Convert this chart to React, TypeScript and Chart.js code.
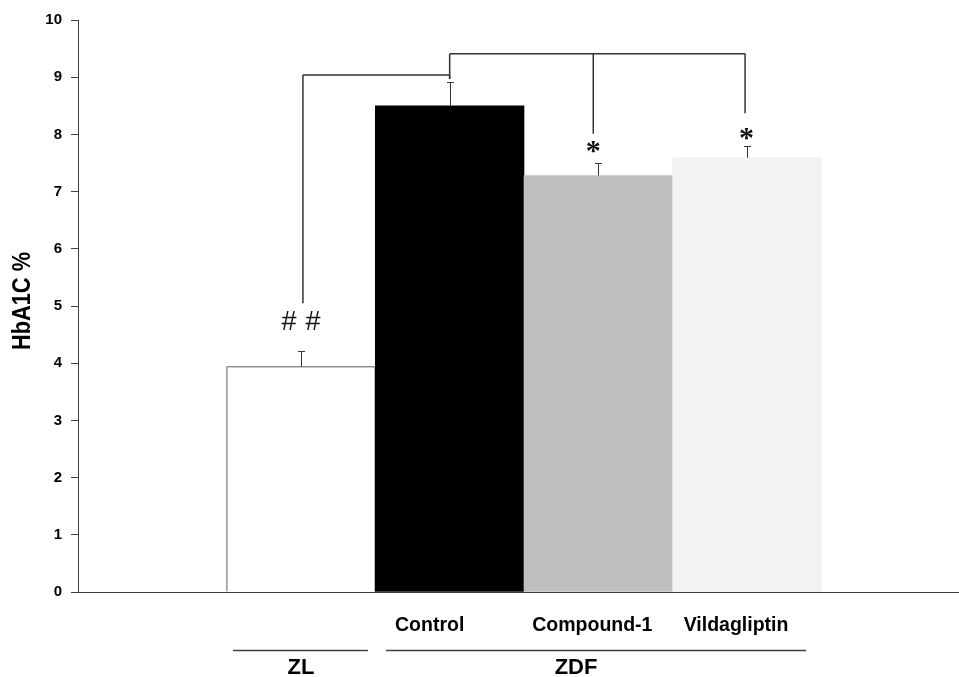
import React, { useEffect, useRef } from "react";
import { Chart, registerables } from "chart.js";

Chart.register(...registerables);

// ---- data ----
const categories = ["ZL", "Control", "Compound-1", "Vildagliptin"];
const categoryGroup = ["ZL", "ZDF", "ZDF", "ZDF"];
const xPositions = [0, 1, 2, 3];
const hba1cValues = [3.94, 8.5, 7.28, 7.59];
const errorValues = [0.27, 0.41, 0.22, 0.21];
const yTickValues = [0, 1, 2, 3, 4, 5, 6, 7, 8, 9, 10];

// group underline spans (x-scale units)
const groupNames = ["ZL", "ZDF"];
const groupStart = [-0.457, 0.572];
const groupEnd = [0.45, 3.397];
const groupLabelX = [0, 1.85];

// significance brackets (x in scale units, y in HbA1C %)
const bracketLevels = [9.04, 9.41];
const bracketDropsX = [
  [0.013, 1],
  [1, 1.966, 2.987],
];
const bracketDropsY = [
  [5.05, 8.97],
  [8.97, 8.01, 8.37],
];
const markTexts = ["##", "*", "*"];
const markX = [0, 1.966, 2.997];
const markY = [4.755, 7.78, 8.01];

// ---- styles ----
const barColors = ["#ffffff", "#000000", "#bfbfbf", "#f2f2f2"];
const barBorders = [1, 0, 0, 0];
const SANS = '"Liberation Sans", Arial, sans-serif';
const SERIF = '"Liberation Serif", "Times New Roman", serif';
const LINE = "#333333";

const annotationPlugin = {
  id: "annotations",
  afterDatasetsDraw(chart: any) {
    const { ctx, scales } = chart;
    const xs = scales.x;
    const ys = scales.y;
    ctx.save();

    // error bars
    ctx.strokeStyle = LINE;
    ctx.lineWidth = 1;
    hba1cValues.forEach((v, i) => {
      const x = Math.round(xs.getPixelForValue(xPositions[i])) + 0.5;
      const y0 = ys.getPixelForValue(v);
      const y1 = Math.round(ys.getPixelForValue(v + errorValues[i])) + 0.5;
      ctx.beginPath();
      ctx.moveTo(x, y0);
      ctx.lineTo(x, y1);
      ctx.moveTo(x - 3.5, y1);
      ctx.lineTo(x + 3.5, y1);
      ctx.stroke();
    });

    // brackets
    ctx.lineWidth = 1.5;
    ctx.strokeStyle = LINE;
    bracketLevels.forEach((lvl, b) => {
      const yl = ys.getPixelForValue(lvl);
      const dx = bracketDropsX[b];
      const dy = bracketDropsY[b];
      ctx.beginPath();
      ctx.moveTo(xs.getPixelForValue(dx[0]), yl);
      ctx.lineTo(xs.getPixelForValue(dx[dx.length - 1]), yl);
      dx.forEach((xv, k) => {
        const px = xs.getPixelForValue(xv);
        ctx.moveTo(px, yl);
        ctx.lineTo(px, ys.getPixelForValue(dy[k]));
      });
      ctx.stroke();
    });

    // significance marks
    ctx.fillStyle = "#111";
    ctx.textAlign = "center";
    ctx.textBaseline = "alphabetic";
    markTexts.forEach((t, i) => {
      const cx = xs.getPixelForValue(markX[i]);
      const cy = ys.getPixelForValue(markY[i]);
      if (t === "##") {
        ctx.font = `27px ${SANS}`;
        const m = ctx.measureText("#");
        const by = cy + (m.actualBoundingBoxAscent - m.actualBoundingBoxDescent) / 2;
        ctx.fillText("#", cx - 12, by);
        ctx.fillText("#", cx + 12, by);
      } else {
        ctx.font = `bold 30px ${SERIF}`;
        const m = ctx.measureText(t);
        const by = cy + (m.actualBoundingBoxAscent - m.actualBoundingBoxDescent) / 2;
        ctx.fillText(t, cx, by);
      }
    });

    // category labels under the axis (ZDF members)
    const labelOffsets = [0, -20, -6, -11];
    ctx.fillStyle = "#000";
    ctx.font = `bold 19.5px ${SANS}`;
    ctx.textBaseline = "middle";
    categories.forEach((c, i) => {
      if (categoryGroup[i] === c) return;
      ctx.fillText(c, xs.getPixelForValue(xPositions[i]) + labelOffsets[i], 626);
    });

    // group underlines and labels
    ctx.strokeStyle = "#404040";
    ctx.lineWidth = 1.5;
    groupNames.forEach((g, i) => {
      ctx.beginPath();
      ctx.moveTo(xs.getPixelForValue(groupStart[i]), 650.5);
      ctx.lineTo(xs.getPixelForValue(groupEnd[i]), 650.5);
      ctx.stroke();
      ctx.font = `bold 22px ${SANS}`;
      ctx.fillText(g, xs.getPixelForValue(groupLabelX[i]), 668);
    });

    // y axis title
    ctx.save();
    ctx.translate(23, 301);
    ctx.rotate(-Math.PI / 2);
    ctx.font = `bold 25px ${SANS}`;
    const title = "HbA1C %";
    const w = ctx.measureText(title).width;
    const target = 98;
    ctx.scale(target / w, 1);
    ctx.textAlign = "center";
    ctx.textBaseline = "middle";
    ctx.fillText(title, 0, 0);
    ctx.restore();

    ctx.restore();
  },
};

export default function App() {
  const ref = useRef<HTMLCanvasElement | null>(null);

  useEffect(() => {
    document.body.style.margin = "0";
    const canvas = ref.current;
    if (!canvas) return;
    const chart = new Chart(canvas, {
      type: "bar",
      data: {
        datasets: [
          {
            label: "HbA1C %",
            data: xPositions.map((x, i) => ({ x, y: hba1cValues[i] })),
            backgroundColor: barColors,
            borderColor: "#333333",
            borderWidth: barBorders,
            borderSkipped: "bottom",
            barPercentage: 1,
            categoryPercentage: 1,
          },
        ],
      },
      options: {
        responsive: false,
        animation: false,
        events: [],
        layout: { padding: { top: 20, left: 0, right: 0, bottom: 0 } },
        plugins: {
          legend: { display: false },
          tooltip: { enabled: false },
          title: { display: false },
        },
        scales: {
          x: {
            type: "linear",
            offset: false,
            min: -1.5,
            max: 4.426,
            ticks: { display: false, stepSize: 1, includeBounds: false },
            grid: { display: false, offset: false },
            border: { display: true, color: "#404040", width: 1 },
            afterFit: (s: any) => {
              s.height = 85;
            },
          },
          y: {
            min: 0,
            max: 10,
            afterBuildTicks: (s: any) => {
              s.ticks = yTickValues.map((v) => ({ value: v }));
            },
            ticks: {
              color: "#000",
              padding: 9,
              font: { family: SANS, size: 15, weight: "bold" },
            },
            grid: {
              drawOnChartArea: false,
              drawTicks: true,
              tickLength: 7,
              color: "#404040",
            },
            border: { display: true, color: "#404040", width: 1 },
            afterFit: (s: any) => {
              s.width = 78;
            },
          },
        },
      } as any,
      plugins: [annotationPlugin],
    });
    return () => chart.destroy();
  }, []);

  return (
    <div style={{ position: "fixed", left: 0, top: 0, width: 959, height: 677, background: "#fff" }}>
      <canvas ref={ref} width={959} height={677} style={{ display: "block" }} />
    </div>
  );
}
